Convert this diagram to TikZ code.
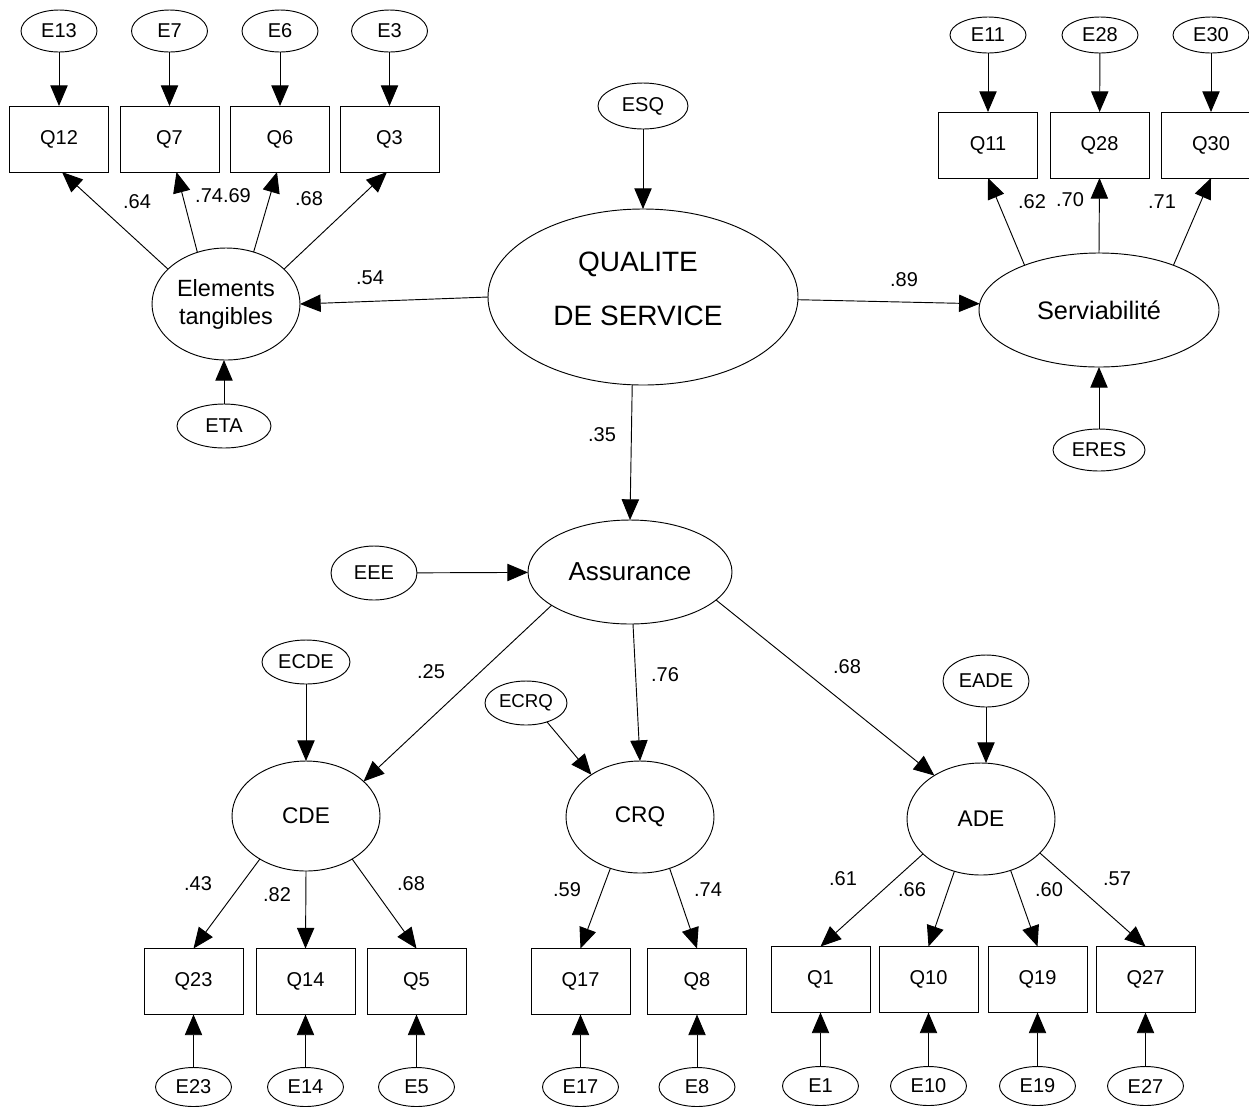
\documentclass[tikz,border=0pt]{standalone}
\usepackage{fontspec}
\setmainfont{Liberation Sans}
\usetikzlibrary{shapes.geometric,arrows.meta,calc}
\begin{document}
\begin{tikzpicture}[x=0.75pt,y=-0.75pt,
  lat/.style 2 args={ellipse, draw, line width=0.7pt, inner sep=0pt, outer sep=0pt, minimum width={#1*1.5pt}, minimum height={#2*1.5pt}},
  err/.style 2 args={ellipse, draw, line width=0.7pt, inner sep=0pt, outer sep=0pt, minimum width={#1*1.5pt}, minimum height={#2*1.5pt}, font=\fontsize{15pt}{18pt}\selectfont},
  obs/.style={rectangle, draw, line width=0.7pt, inner sep=0pt, outer sep=0pt, minimum width=74.25pt, minimum height=49.5pt, font=\fontsize{15pt}{18pt}\selectfont},
  arr/.style={-{Triangle[length=15.5pt,width=13pt]}, line width=0.7pt},
  coef/.style={inner sep=0pt, font=\fontsize{15pt}{18pt}\selectfont},
  txt/.style={inner sep=0pt, align=center}
]
\useasboundingbox (0,0) rectangle (1249,1108);

% ---------- top-left: Elements tangibles ----------
\node[err={38}{21}] (E13) at (59,31) {E13};
\node[err={38}{21}] (E7) at (169.5,31) {E7};
\node[err={38}{21}] (E6) at (280,31) {E6};
\node[err={38}{21}] (E3) at (389.5,31) {E3};
\node[obs] (Q12) at (59,139) {Q12};
\node[obs] (Q7) at (169.5,139) {Q7};
\node[obs] (Q6) at (280,139) {Q6};
\node[obs] (Q3) at (389.5,139) {Q3};
\node[lat={74}{56}, align=center, font=\fontsize{17.6pt}{21pt}\selectfont] (ET) at (226,304) {Elements\\tangibles};
\node[err={47}{22}] (ETA) at (224,426) {ETA};

\draw[arr] (E13) -- (Q12);
\draw[arr] (E7) -- (Q7);
\draw[arr] (E6) -- (Q6);
\draw[arr] (E3) -- (Q3);
\draw[arr] (ET.149) -- ($(Q12.south)+(3,0)$);
\draw[arr] (ET.119) -- ($(Q7.south)+(7,0)$);
\draw[arr] (ET.62) -- ($(Q6.south)+(-3,0)$);
\draw[arr] (ET.31) -- ($(Q3.south)+(-2.5,0)$);
\draw[arr] (ETA.north) -- (ETA.north |- ET.south);

\node[coef] (c64) at (137,202) {.64};
\node[coef] (c7469) at (223,196) {.74.69};
\node[coef] (c68a) at (309,199) {.68};
\node[coef] (c54) at (370,278) {.54};

% ---------- top-right: Serviabilite ----------
\node[err={38}{18}] (E11) at (988,35) {E11};
\node[err={38}{18}] (E28) at (1100,35) {E28};
\node[err={38}{18}] (E30) at (1211,35) {E30};
\node[obs] (Q11) at (988,145) {Q11};
\node[obs] (Q28) at (1099.5,145) {Q28};
\node[obs] (Q30) at (1211,145) {Q30};
\node[lat={120}{57}, font=\fontsize{19pt}{22pt}\selectfont] (Serv) at (1099,310) {Serviabilité};
\node[err={46}{21}] (ERES) at (1099,450) {ERES};
\draw[arr] (E11) -- (Q11);
\draw[arr] (E28) -- (Q28);
\draw[arr] (E30) -- (Q30);
\draw[arr] (Serv.149) -- (Q11.south);
\draw[arr] (Serv.north) -- (Q28.south);
\draw[arr] (Serv.31) -- (Q30.south);
\draw[arr] (ERES) -- (Serv);
\node[coef] (c62) at (1032,202) {.62};
\node[coef] (c70) at (1070,200) {.70};
\node[coef] (c71) at (1162,202) {.71};

% ---------- centre: Qualite de service ----------
\node[err={45}{23}] (ESQ) at (643,106) {ESQ};
\node[lat={155}{88}] (QS) at (643,297) {};
\node[txt, font=\fontsize{21pt}{40pt}\selectfont] (QStext) at (638,289) {QUALITE\\DE SERVICE};
\draw[arr] (ESQ) -- (QS);
\draw[arr] (QS.west) -- (ET.east);
\draw[arr] (QS.359) -- (Serv.177);
\node[coef] (c89) at (904,280) {.89};
\node[coef] (c35) at (602,435) {.35};

% ---------- Assurance ----------
\node[lat={102}{52}, font=\fontsize{19.5pt}{22pt}\selectfont] (Ass) at (630,572) {Assurance};
\node[err={43}{27}] (EEE) at (374,573) {EEE};
\draw[arr] (QS.263) -- (Ass.north);
\draw[arr] (EEE) -- (Ass);

\node[lat={74}{55}, font=\fontsize{17pt}{20pt}\selectfont] (CDE) at (306,816) {CDE};
\node[lat={74}{56}, font=\fontsize{17pt}{20pt}\selectfont] (CRQ) at (640,817) {CRQ};
\node[lat={74}{56}, font=\fontsize{17pt}{20pt}\selectfont] (ADE) at (981,819) {ADE};
\node[err={44}{22}] (ECDE) at (306,662) {ECDE};
\node[err={41}{22}, font=\fontsize{14pt}{17pt}\selectfont] (ECRQ) at (526,703) {ECRQ};
\node[err={43}{26}] (EADE) at (986,681) {EADE};

\draw[arr] (Ass.203) -- (CDE.31);
\draw[arr] ($(Ass.south)+(3,0)$) -- (CRQ.north);
\draw[arr] (Ass.342) -- (ADE.137);
\draw[arr] (ECDE) -- (CDE);
\draw[arr] (ECRQ.318) -- (CRQ.139);
\draw[arr] (EADE.south) -- (EADE.south |- ADE.north);

\node[coef] (c25) at (431,672) {.25};
\node[coef] (c76) at (665,675) {.76};
\node[coef] (c68b) at (847,667) {.68};

% ---------- bottom indicators ----------
\node[obs] (Q23) at (193.5,981.5) {Q23};
\node[obs] (Q14) at (305.5,981.5) {Q14};
\node[obs] (Q5) at (416.5,981.5) {Q5};
\node[obs] (Q17) at (580.5,981.5) {Q17};
\node[obs] (Q8) at (697,981.5) {Q8};
\node[obs] (Q1) at (820.5,979.5) {Q1};
\node[obs] (Q10) at (928.5,979.5) {Q10};
\node[obs] (Q19) at (1037.5,979.5) {Q19};
\node[obs] (Q27) at (1145.5,979.5) {Q27};

\node[err={38}{19.5}] (E23) at (193.5,1087) {E23};
\node[err={38}{19.5}] (E14) at (305.5,1087) {E14};
\node[err={38}{19.5}] (E5) at (416.5,1087) {E5};
\node[err={38}{19.5}] (E17) at (580.5,1087) {E17};
\node[err={38}{19.5}] (E8) at (697,1087) {E8};
\node[err={38}{19.5}] (E1) at (820.5,1086) {E1};
\node[err={38}{19.5}] (E10) at (928.5,1086) {E10};
\node[err={38}{19.5}] (E19) at (1037.5,1086) {E19};
\node[err={38}{19.5}] (E27) at (1145.5,1086) {E27};

\draw[arr] (CDE.223) -- (Q23.north);
\draw[arr] (CDE.south) -- (Q14.north);
\draw[arr] (CDE.317) -- (Q5.north);
\draw[arr] (CRQ.240) -- (Q17.north);
\draw[arr] (CRQ.300) -- (Q8.north);
\draw[arr] (ADE.211) -- (Q1.north);
\draw[arr] (ADE.243) -- (Q10.north);
\draw[arr] (ADE.300) -- (Q19.north);
\draw[arr] (ADE.330) -- (Q27.north);

\foreach \n in {23,14,5,17,8,1,10,19,27}{
  \draw[arr] (E\n) -- (Q\n);
}

\node[coef] (c43) at (198,884) {.43};
\node[coef] (c82) at (277,895) {.82};
\node[coef] (c68c) at (411,884) {.68};
\node[coef] (c59) at (567,890) {.59};
\node[coef] (c74) at (708,890) {.74};
\node[coef] (c61) at (843,879) {.61};
\node[coef] (c66) at (912,890) {.66};
\node[coef] (c60) at (1049,890) {.60};
\node[coef] (c57) at (1117,879) {.57};
\end{tikzpicture}
\end{document}
